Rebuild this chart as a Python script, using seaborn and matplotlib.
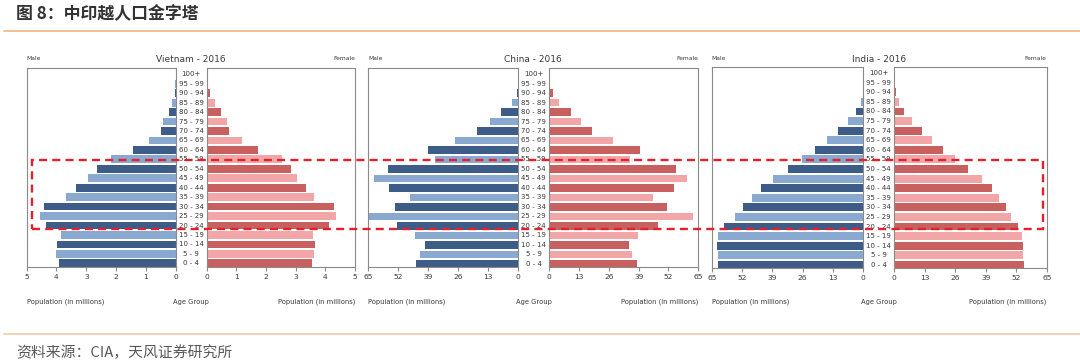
import numpy as np
import pandas as pd
import matplotlib
matplotlib.use('Agg')
import matplotlib.pyplot as plt
import matplotlib.transforms as mtransforms
from matplotlib.patches import Rectangle
from matplotlib.lines import Line2D
import seaborn as sns

# ---------------- data ----------------
age_groups = ['0 - 4', '5 - 9', '10 - 14', '15 - 19', '20 - 24', '25 - 29', '30 - 34',
              '35 - 39', '40 - 44', '45 - 49', '50 - 54', '55 - 59', '60 - 64',
              '65 - 69', '70 - 74', '75 - 79', '80 - 84', '85 - 89', '90 - 94',
              '95 - 99', '100+']

vietnam_male = [3.91, 4.02, 3.99, 3.86, 4.36, 4.57, 4.42, 3.69, 3.36, 2.93, 2.65, 2.18,
                1.42, 0.88, 0.50, 0.41, 0.22, 0.12, 0.04, 0.01, 0.0]
vietnam_female = [3.54, 3.63, 3.65, 3.60, 4.13, 4.36, 4.30, 3.63, 3.35, 3.03, 2.84, 2.53,
                  1.74, 1.20, 0.76, 0.70, 0.49, 0.28, 0.12, 0.02, 0.0]

china_male = [44.3, 42.4, 40.6, 44.6, 52.5, 65.0, 53.4, 46.9, 56.2, 62.6, 56.3, 36.3,
              39.2, 27.3, 17.7, 12.3, 7.4, 2.8, 0.7, 0.1, 0.0]
china_female = [38.4, 36.2, 34.7, 38.7, 47.5, 62.8, 51.2, 45.1, 54.5, 60.2, 55.2, 35.2,
                39.5, 27.9, 18.6, 14.0, 9.6, 4.4, 1.7, 0.3, 0.0]

india_male = [62.4, 62.4, 62.7, 62.4, 59.6, 55.1, 51.7, 47.7, 43.9, 38.6, 32.1, 26.3,
              20.9, 15.4, 10.7, 6.6, 3.1, 1.1, 0.3, 0.05, 0.0]
india_female = [55.3, 54.8, 55.1, 54.5, 52.6, 49.8, 47.7, 44.7, 41.8, 37.3, 31.4, 26.0,
                20.9, 15.9, 11.8, 7.7, 4.3, 2.0, 0.7, 0.1, 0.0]

panel_titles = ['Vietnam - 2016', 'China - 2016', 'India - 2016']
vietnam_ticks = [0, 1, 2, 3, 4, 5]
big_ticks = [0, 13, 26, 39, 52, 65]

title_text = '图 8：中印越人口金字塔'
source_text = '资料来源：CIA，天风证券研究所'

# ---------------- style ----------------
sns.set_theme(style='white')
plt.rcParams['font.family'] = ['DejaVu Sans']
CJK = ['Noto Sans CJK SC', 'DejaVu Sans']

male_dark, male_light = '#3d5d88', '#89a9d1'
female_dark, female_light = '#c96060', '#f2a6a7'
male_pal = {a: (male_dark if i % 2 == 0 else male_light) for i, a in enumerate(age_groups)}
female_pal = {a: (female_dark if i % 2 == 0 else female_light) for i, a in enumerate(age_groups)}
order = age_groups[::-1]

W, H = 1080, 362
fig = plt.figure(figsize=(W / 100, H / 100), dpi=100)
fig.patch.set_facecolor('white')


def add_ax(x0, x1, ytop, ybot):
    return fig.add_axes([x0 / W, 1 - ybot / H, (x1 - x0) / W, (ybot - ytop) / H])


panels = [
    dict(title=panel_titles[0], male=vietnam_male, female=vietnam_female, xmax=5,
         ticks=vietnam_ticks, L=(26.7, 175.7), R=(206.7, 355.0), top=68.0, bot=266.7),
    dict(title=panel_titles[1], male=china_male, female=china_female, xmax=65,
         ticks=big_ticks, L=(368.3, 518.3), R=(549.3, 698.3), top=67.7, bot=267.3),
    dict(title=panel_titles[2], male=india_male, female=india_female, xmax=65,
         ticks=big_ticks, L=(711.7, 863.3), R=(894.3, 1046.7), top=66.7, bot=268.3),
]

spine_col = '#8a8a8a'
text_col = '#3a3a3a'

for p in panels:
    df = pd.DataFrame({'age': age_groups, 'male': p['male'], 'female': p['female']})
    axL = add_ax(p['L'][0], p['L'][1], p['top'], p['bot'])
    axR = add_ax(p['R'][0], p['R'][1], p['top'], p['bot'])

    sns.barplot(data=df, x='male', y='age', order=order, hue='age', hue_order=order,
                palette=male_pal, legend=False, ax=axL, width=0.82, saturation=1,
                orient='h', linewidth=0)
    sns.barplot(data=df, x='female', y='age', order=order, hue='age', hue_order=order,
                palette=female_pal, legend=False, ax=axR, width=0.82, saturation=1,
                orient='h', linewidth=0)

    axL.set_xlim(p['xmax'], 0)
    axR.set_xlim(0, p['xmax'])
    for ax in (axL, axR):
        ax.set_ylim(20.36, -0.67)
        ax.set_yticks([])
        ax.set_xticks(p['ticks'])
        ax.set_xticklabels([str(t) for t in p['ticks']])
        ax.set_xlabel('')
        ax.set_ylabel('')
        ax.set_facecolor('white')
        for s in ax.spines.values():
            s.set_visible(True)
            s.set_color(spine_col)
            s.set_linewidth(0.8)
        ax.tick_params(axis='x', bottom=True, length=3, width=0.8, color=spine_col,
                       labelsize=5.4, labelcolor=text_col, pad=2)

    # age labels in the gap
    cx = (p['L'][1] + p['R'][0]) / 2 / W
    tr = mtransforms.blended_transform_factory(fig.transFigure, axL.transData)
    for i, lab in enumerate(order):
        fig.text(cx, i, lab, transform=tr, ha='center', va='center', fontsize=5.0,
                 color=text_col)

    # panel annotations
    ty = 1 - 59 / H
    fig.text((p['L'][0] + p['R'][1]) / 2 / W, ty, p['title'], ha='center', va='center',
             fontsize=6.5, color=text_col)
    fig.text(p['L'][0] / W, ty, 'Male', ha='left', va='center', fontsize=4.3, color=text_col)
    fig.text(p['R'][1] / W, ty, 'Female', ha='right', va='center', fontsize=4.3, color=text_col)
    by = 1 - 302 / H
    fig.text(p['L'][0] / W, by, 'Population (in millions)', ha='left', va='center',
             fontsize=4.9, color=text_col)
    fig.text(cx, by, 'Age Group', ha='center', va='center', fontsize=4.9, color=text_col)
    fig.text(p['R'][1] / W, by, 'Population (in millions)', ha='right', va='center',
             fontsize=4.9, color=text_col)

# header / footer
fig.text(16 / W, 1 - 14 / H, title_text, ha='left', va='center', fontsize=12.2,
         fontweight='bold', color='#333333', family=CJK)
fig.add_artist(Line2D([4 / W, 1.0], [1 - 30.5 / H] * 2, transform=fig.transFigure,
                      color='#f4b483', lw=1.2))
fig.add_artist(Line2D([4 / W, 1.0], [1 - 334 / H] * 2, transform=fig.transFigure,
                      color='#f4c9a6', lw=1.2))
fig.text(16 / W, 1 - 352.5 / H, source_text, ha='left', va='center', fontsize=10.7,
         color='#595959', family=CJK)

# red dashed highlight box
x0, x1, yt, yb = 31.7, 1043.3, 160.0, 229.3
fig.add_artist(Rectangle((x0 / W, 1 - yb / H), (x1 - x0) / W, (yb - yt) / H,
                         transform=fig.transFigure, fill=False, edgecolor='#e3202b',
                         lw=1.7, ls=(0, (3.4, 2.2)), zorder=10))

fig.savefig('out.png', dpi=100, facecolor='white')
